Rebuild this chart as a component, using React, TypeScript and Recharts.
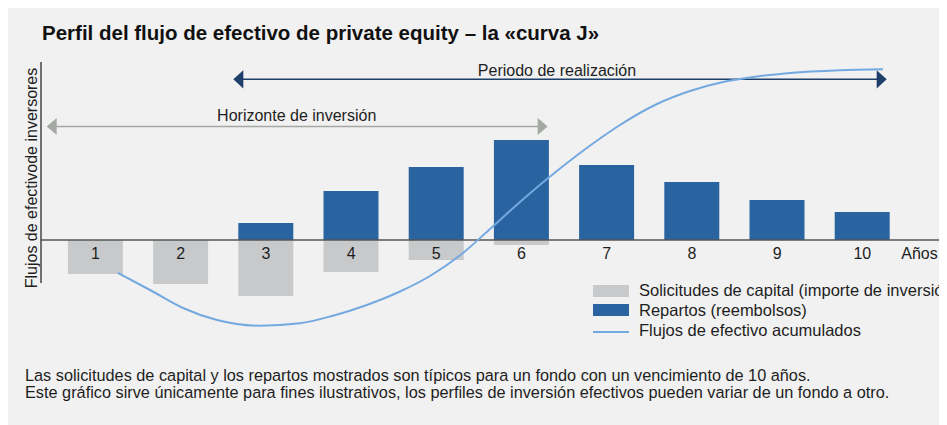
import React from "react";
import { ComposedChart, Bar, Line, XAxis, YAxis, ReferenceLine, Legend } from "recharts";

const years = [1, 2, 3, 4, 5, 6, 7, 8, 9, 10];
const capitalCalls = [-34, -44, -56, -32, -20, -5, 0, 0, 0, 0];
const distributions = [0, 0, 17, 49, 73, 100, 75, 58, 40, 28];
const cumYears = [1.264, 1.64, 2.027, 2.426, 2.931, 3.4, 3.787, 4.186, 4.574, 4.926, 5.313, 5.63, 5.982, 6.299, 6.687, 6.921, 7.156, 7.59, 7.978, 8.365, 8.764, 9.151, 9.738, 10.243];
const cumValues = [-33, -50, -68, -80, -85.7, -83.3, -75.7, -65, -51.5, -36, -13, 11, 38, 61, 87, 101.5, 115, 136, 149, 158, 163.5, 167, 169.7, 170.7];
const seriesNames = ["Solicitudes de capital (importe de inversión)", "Repartos (reembolsos)", "Flujos de efectivo acumulados"];
const title = "Perfil del flujo de efectivo de private equity – la «curva J»";
const yLabel = "Flujos de efectivode inversores";
const xUnit = "Años";
const realizationLabel = "Periodo de realización";
const horizonLabel = "Horizonte de inversión";
const footnotes = [
  "Las solicitudes de capital y los repartos mostrados son típicos para un fondo con un vencimiento de 10 años.",
  "Este gráfico sirve únicamente para fines ilustrativos, los perfiles de inversión efectivos pueden variar de un fondo a otro.",
];

const data = years.map((y, i) => ({ year: y, calls: capitalCalls[i], dist: distributions[i] }));
const cumData = cumYears.map((y, i) => ({ year: y, cum: cumValues[i] }));

const FONT = '"Liberation Sans", Arial, Helvetica, sans-serif';
const W = 939;
const H = 417;
const MARGIN = { top: 54, right: 4, bottom: 55, left: 33 };
const X_AXIS_H = 30;
const Y_MIN = -100;
const Y_MAX = 178;
const X_DOMAIN: [number, number] = [0.3603, 10.947];
const PLOT_H = H - MARGIN.top - MARGIN.bottom - X_AXIS_H;
const ZERO_Y = MARGIN.top + (Y_MAX / (Y_MAX - Y_MIN)) * PLOT_H;

const GRAY = "#c8c9cb";
const BLUE = "#2a64a0";
const LINE = "#74a9e0";
const TEXT = "#1e1e1e";

function YearTick(props: any) {
  const { x, payload } = props;
  return (
    <text x={x} y={ZERO_Y + 13} textAnchor="middle" dominantBaseline="central" fontSize={16} fill={TEXT} fontFamily={FONT}>
      {payload.value}
    </text>
  );
}

function LegendContent(props: any) {
  const payload = [...(props.payload || [])].sort(
    (a: any, b: any) => seriesNames.indexOf(a.value) - seriesNames.indexOf(b.value)
  );
  return (
    <div style={{ fontFamily: FONT, fontSize: 16.5, color: TEXT, whiteSpace: "nowrap", textAlign: "left" }}>
      {payload.map((entry: any, i: number) => (
        <div key={i} style={{ display: "flex", alignItems: "center", height: 19.7 }}>
          {entry.type === "line" ? (
            <div style={{ width: 36, height: 12, marginRight: 10, display: "flex", alignItems: "center" }}>
              <div style={{ width: 36, height: 2, background: LINE, marginTop: 3 }} />
            </div>
          ) : (
            <div style={{ width: 36, height: 12, background: entry.color, marginRight: 10 }} />
          )}
          <span>{entry.value}</span>
        </div>
      ))}
    </div>
  );
}

export default function App() {
  return (
    <div style={{ position: "relative", width: W, height: H, background: "#f1f1f1", overflow: "hidden", fontFamily: FONT }}>
      <div style={{ position: "absolute", left: 34, top: 13, fontSize: 20.5, fontWeight: "bold", lineHeight: "24px", color: "#111", whiteSpace: "nowrap" }}>
        {title}
      </div>
      <svg width={W} height={H} style={{ position: "absolute", left: 0, top: 0 }}>
        <line x1={235} y1={71.3} x2={869.5} y2={71.3} stroke="#1d3f69" strokeWidth={1.5} />
        <polygon points="225.3,71.3 235.3,62.2 235.3,80.4" fill="#1d3f69" />
        <polygon points="878.7,71.3 868.7,62.2 868.7,80.4" fill="#1d3f69" />
        <text x={549} y={62} textAnchor="middle" dominantBaseline="central" fontSize={16} fill={TEXT} fontFamily={FONT}>{realizationLabel}</text>
        <line x1={48} y1={118.5} x2={530} y2={118.5} stroke="#a4a9a3" strokeWidth={1.5} />
        <polygon points="38.7,118.5 48.7,110 48.7,127" fill="#a4a9a3" />
        <polygon points="539.7,118.5 529.7,110 529.7,127" fill="#a4a9a3" />
        <text x={288.7} y={107} textAnchor="middle" dominantBaseline="central" fontSize={16} fill={TEXT} fontFamily={FONT}>{horizonLabel}</text>
        <text x={0} y={0} transform="translate(23,170) rotate(-90)" textAnchor="middle" dominantBaseline="central" fontSize={16} fill={TEXT} fontFamily={FONT}>{yLabel}</text>
        <text x={911.5} y={ZERO_Y + 13} textAnchor="middle" dominantBaseline="central" fontSize={16} fill={TEXT} fontFamily={FONT}>{xUnit}</text>
        <polygon points={`933.5,${ZERO_Y - 7} 942,${ZERO_Y} 933.5,${ZERO_Y + 7}`} fill="#111" />
      </svg>
      <div style={{ position: "absolute", left: 0, top: 0 }}>
        <ComposedChart width={W} height={H} data={data} margin={MARGIN} stackOffset="sign">
          <XAxis dataKey="year" type="category" padding={{ left: 11.9, right: 38.1 }} height={X_AXIS_H} axisLine={false} tickLine={false} tick={<YearTick />} interval={0} />
          <XAxis xAxisId="num" dataKey="year" type="number" domain={X_DOMAIN} allowDataOverflow hide />
          <YAxis type="number" domain={[Y_MIN, Y_MAX]} allowDataOverflow hide />
          <Bar dataKey="calls" name={seriesNames[0]} stackId="a" fill={GRAY} barSize={55} isAnimationActive={false} />
          <Bar dataKey="dist" name={seriesNames[1]} stackId="a" fill={BLUE} barSize={55} isAnimationActive={false} />
          <ReferenceLine xAxisId="num" y={0} stroke="#555" strokeWidth={1.5} ifOverflow="visible" />
          <ReferenceLine xAxisId="num" segment={[{ x: X_DOMAIN[0], y: Y_MAX }, { x: X_DOMAIN[0], y: -43 }]} stroke="#444" strokeWidth={1.5} ifOverflow="visible" />
          <Line xAxisId="num" data={cumData} dataKey="cum" name={seriesNames[2]} type="monotone" stroke={LINE} strokeWidth={2} dot={false} activeDot={false} isAnimationActive={false} />
          <Legend layout="horizontal" verticalAlign="middle" align="center" content={<LegendContent />} wrapperStyle={{ left: 585, top: 272.8, width: 420, height: 60 }} />
        </ComposedChart>
      </div>
      <div style={{ position: "absolute", left: 17, top: 359, fontSize: 16.3, lineHeight: "17px", color: TEXT, whiteSpace: "nowrap" }}>
        {footnotes.map((f, i) => (
          <div key={i}>{f}</div>
        ))}
      </div>
    </div>
  );
}
